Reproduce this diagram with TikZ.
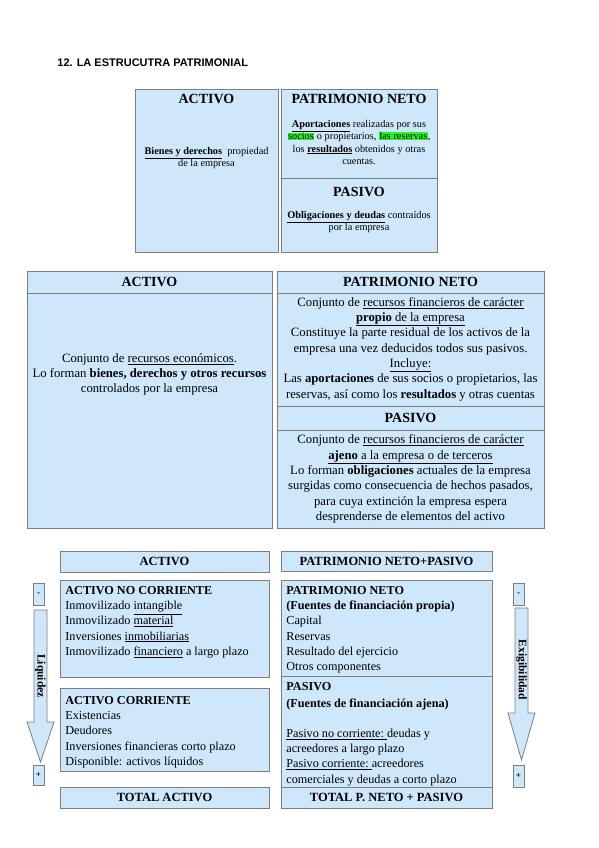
\documentclass[tikz,border=0pt]{standalone}
\usepackage{fontspec}
\setmainfont{Liberation Serif}
\newfontfamily\titlefont{Liberation Sans}
\definecolor{boxfill}{RGB}{207,231,250}
\definecolor{boxline}{RGB}{125,125,125}
\definecolor{hlgreen}{RGB}{40,245,40}
\newcommand{\hlg}[1]{{\setlength{\fboxsep}{0.5pt}\colorbox{hlgreen}{#1}}}

\begin{document}
\begin{tikzpicture}[x=1pt,y=-1pt,line width=.8pt,
  box/.style={draw=boxline,fill=boxfill,anchor=north west,inner sep=0pt},
  headbig/.style={anchor=center,inner sep=0pt,font=\fontsize{14}{16}\selectfont\bfseries},
  headsm/.style={anchor=center,inner sep=0pt,font=\fontsize{12.5}{14}\selectfont\bfseries},
  small/.style={anchor=center,inner sep=0pt,align=center,font=\fontsize{10.3}{12.3}\selectfont},
  body/.style={anchor=center,inner sep=0pt,align=center,font=\fontsize{12.7}{15.3}\selectfont},
  list/.style={anchor=north west,inner sep=0pt,align=left,font=\fontsize{12.2}{15.2}\selectfont},
  signbox/.style={draw=boxline,fill=boxfill,inner sep=0pt,minimum width=11,font=\fontsize{9}{11}\selectfont\bfseries},
  arrowbox/.style={draw=boxline,fill=boxfill}]
\path[use as bounding box] (0,0) rectangle (599,848);
\node[anchor=west,inner sep=0pt,font=\titlefont\bfseries\fontsize{11}{13}\selectfont] (titulo) at (57,63) {12. LA ESTRUCUTRA PATRIMONIAL};
% primer esquema
\node[box,minimum width=143,minimum height=163] (tact) at (135,89) {};
\node[box,minimum width=156,minimum height=163] (tpn) at (281,89) {};
\draw[boxline] (281,178) -- (437,178);
\node[headbig] (tacth) at (206.5,99) {ACTIVO};
\node[small] (tactt) at (206.5,158) {\textbf{\underline{Bienes y derechos}}\ \ propiedad\\de la empresa};
\node[headbig] (tpnh) at (359,99) {PATRIMONIO NETO};
\node[small] (tpnt) at (359,142.5) {\textbf{\underline{Aportaciones}} realizadas por sus\\\hlg{socios} o propietarios, \hlg{las reservas},\\los \textbf{\underline{resultados}} obtenidos y otras\\cuentas.};
\node[headbig] (tpah) at (359,192) {PASIVO};
\node[small] (tpat) at (359,222) {\textbf{\underline{Obligaciones y deudas}} contraídos\\por la empresa};
% segundo esquema
\node[box,minimum width=245,minimum height=257] (mact) at (27,271) {};
\draw[boxline] (27,293) -- (272,293);
\node[headbig] (macth) at (149.5,282) {ACTIVO};
\node[body] (mactt) at (149.5,374.5) {Conjunto de \underline{recursos económicos}.\\Lo forman \textbf{bienes, derechos y otros recursos}\\controlados por la empresa};
\node[box,minimum width=267,minimum height=257] (mpn) at (277,271) {};
\draw[boxline] (277,293) -- (544,293);
\draw[boxline] (277,406) -- (544,406);
\draw[boxline] (277,430) -- (544,430);
\node[headbig] (mpnh) at (410.5,282) {PATRIMONIO NETO};
\node[body] (mpnt) at (410.5,349) {Conjunto de \underline{recursos financieros de carácter}\\\underline{\textbf{propio} de la empresa}\\Constituye la parte residual de los activos de la\\empresa una vez deducidos todos sus pasivos.\\\underline{Incluye:}\\Las \textbf{aportaciones} de sus socios o propietarios, las\\reservas, así como los \textbf{resultados} y otras cuentas};
\node[headbig] (mpah) at (410.5,418) {PASIVO};
\node[body] (mpat) at (410.5,479) {Conjunto de \underline{recursos financieros de carácter}\\\underline{\textbf{ajeno} a la empresa o de terceros}\\Lo forman \textbf{obligaciones} actuales de la empresa\\surgidas como consecuencia de hechos pasados,\\para cuya extinción la empresa espera\\desprenderse de elementos del activo};
% tercer esquema
\node[box,minimum width=209,minimum height=21] (bacth) at (60,551) {};
\node[headsm] at (164.5,561.5) {ACTIVO};
\node[box,minimum width=211,minimum height=20] (bpnh) at (281,551) {};
\node[headsm] at (386.5,561) {PATRIMONIO NETO+PASIVO};
\node[box,minimum width=209,minimum height=97] (banc) at (60,580) {};
\node[list] (banct) at (65,586) {\textbf{ACTIVO NO CORRIENTE}\\Inmovilizado \underline{intangible}\\Inmovilizado \underline{material}\\Inversiones \underline{inmobiliarias}\\Inmovilizado \underline{financiero} a largo plazo};
\node[box,minimum width=209,minimum height=83] (bac) at (60,688) {};
\node[list] (bact) at (65,696) {\textbf{ACTIVO CORRIENTE}\\Existencias\\Deudores\\Inversiones financieras corto plazo\\Disponible: activos líquidos};
\node[box,minimum width=209,minimum height=21] (btact) at (60,787) {};
\node[headsm] at (164.5,797.5) {TOTAL ACTIVO};
\node[box,minimum width=211,minimum height=228] (bpn) at (281,580) {};
\draw[boxline] (281,676) -- (492,676);
\draw[boxline] (281,787) -- (492,787);
\node[list] (bpnt) at (286,586) {\textbf{PATRIMONIO NETO}\\\textbf{(Fuentes de financiación propia)}\\Capital\\Reservas\\Resultado del ejercicio\\Otros componentes};
\node[list] (bpat) at (286,682) {\textbf{PASIVO}\\[1.5pt]\textbf{(Fuentes de financiación ajena)}\\[15.2pt]\underline{Pasivo no corriente:\ }deudas y\\acreedores a largo plazo\\\underline{Pasivo corriente:\ }acreedores\\comerciales y deudas a corto plazo};
\node[headsm] at (386.5,797.5) {TOTAL P. NETO + PASIVO};
% flechas
\draw[arrowbox] (34,610) -- (47,610) -- (47,722) -- (54,722) -- (40.5,762) -- (27,722) -- (34,722) -- cycle;
\node[signbox,minimum height=22] (lmenos) at (38.5,594) {-};
\node[signbox,minimum height=20] (lmas) at (38.5,775) {+};
\node[rotate=-90,inner sep=0pt,font=\fontsize{11.5}{13}\selectfont\bfseries] (liq) at (40.5,676) {Liquidez};
\draw[arrowbox] (515,608) -- (528,608) -- (528,713) -- (535,713) -- (521.5,760) -- (508,713) -- (515,713) -- cycle;
\node[signbox,minimum height=22] (rmenos) at (518.5,594) {-};
\node[signbox,minimum height=22] (rmas) at (518.5,776) {+};
\node[rotate=-90,inner sep=0pt,font=\fontsize{11.5}{13}\selectfont\bfseries] (exig) at (521.5,670) {Exigibilidad};
\end{tikzpicture}
\end{document}
